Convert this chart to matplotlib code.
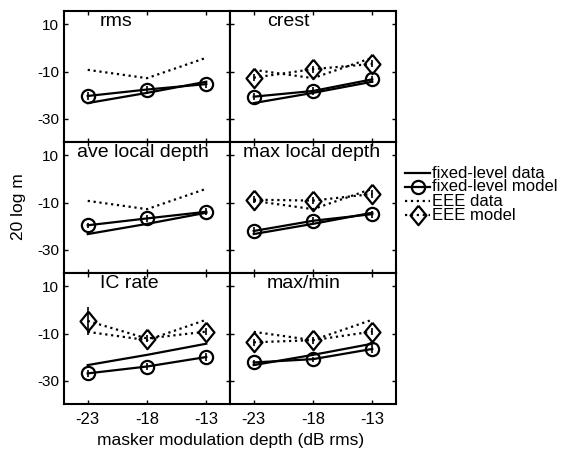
import matplotlib
matplotlib.use("Agg")
import matplotlib.pyplot as plt
from matplotlib.lines import Line2D

plt.rcParams['font.family'] = ['Liberation Sans', 'DejaVu Sans']
plt.rcParams['axes.unicode_minus'] = False

# masker modulation depths (dB rms)
depths = [-23, -18, -13]

# measured thresholds (20 log m), same in every panel
fixed_data = [-23.3, -19.0, -14.3]
eee_data = [-9.3, -12.8, -4.2]

# model predictions per decision statistic
titles = ["rms", "crest", "ave local depth", "max local depth", "IC rate", "max/min"]
fixed_model = {
    "rms": [-20.3, -17.6, -15.3],
    "crest": [-20.6, -18.2, -13.3],
    "ave local depth": [-19.6, -16.7, -13.9],
    "max local depth": [-22.0, -17.7, -14.9],
    "IC rate": [-26.8, -23.9, -19.9],
    "max/min": [-22.2, -20.8, -16.5],
}
fixed_err = {
    "rms": [1.5, 1.5, 1.5],
    "crest": [1.5, 1.5, 1.5],
    "ave local depth": [1.0, 1.5, 1.5],
    "max local depth": [1.5, 1.5, 1.5],
    "IC rate": [1.5, 1.5, 1.5],
    "max/min": [1.0, 1.0, 1.5],
}
eee_model = {
    "crest": [-12.6, -9.0, -6.8],
    "max local depth": [-8.8, -9.2, -6.4],
    "IC rate": [-4.7, -12.1, -9.2],
    "max/min": [-13.7, -12.8, -9.2],
}
eee_err = {
    "crest": [1.5, 1.5, 1.5],
    "max local depth": [1.5, 1.5, 1.5],
    "IC rate": [6.0, 1.5, 1.5],
    "max/min": [1.5, 1.5, 1.5],
}

# slightly squat diamond
diamond = [(0, 1), (0.82, 0), (0, -1), (-0.82, 0), (0, 1)]

W, H = 579, 451
fig = plt.figure(figsize=(W / 100, H / 100), dpi=100)

col_left = [64, 230]
col_w = 166
row_top = [11, 142, 273]
row_h = 131
title_dx = {"rms": 36, "crest": 37, "ave local depth": 13, "max local depth": 13,
            "IC rate": 36, "max/min": 37}

for i, name in enumerate(titles):
    r, c = divmod(i, 2)
    x0 = col_left[c]
    y0 = row_top[r]
    ax = fig.add_axes([x0 / W, 1 - (y0 + row_h) / H, col_w / W, row_h / H])

    ax.plot(depths, fixed_data, '-', color='black', lw=1.6)
    ax.plot(depths, eee_data, ':', color='black', lw=1.6)
    ax.errorbar(depths, fixed_model[name], yerr=fixed_err[name], fmt='-o',
                color='black', lw=1.6, ms=9.5, mfc='none', mew=1.6,
                elinewidth=1.2, capsize=0)
    if name in eee_model:
        ax.errorbar(depths, eee_model[name], yerr=eee_err[name], fmt=':',
                    marker=diamond, color='black', lw=1.6, ms=14, mfc='none',
                    mew=1.6, elinewidth=1.2, capsize=0)

    ax.set_xlim(-25, -11)
    ax.set_ylim(-39.7, 15.5)
    ax.set_xticks(depths)
    ax.set_yticks([10, -10, -30])
    ax.tick_params(direction='in', top=True, right=True, length=3, width=1)
    ax.tick_params(axis='y', labelsize=11)
    ax.tick_params(axis='x', labelsize=12, pad=6)
    if c == 1:
        ax.tick_params(labelleft=False)
    if r < 2:
        ax.tick_params(labelbottom=False)
    for s in ax.spines.values():
        s.set_linewidth(1.5)
    ax.text(title_dx[name] / col_w, 0.985, name, transform=ax.transAxes,
            ha='left', va='top', fontsize=14)

fig.text(231 / W, 1 - 441 / H, "masker modulation depth (dB rms)",
         ha='center', va='center', fontsize=12.5)
fig.text(19 / W, 1 - 207 / H, "20 log m", rotation=90,
         ha='center', va='center', fontsize=12.5)

# legend drawn by hand so the rows sit close together
labels = ["fixed-level data", "fixed-level model", "EEE data", "EEE model"]
styles = [('-', None, None), ('-', 'o', 9.5), (':', None, None), (':', diamond, 14)]
rows_y = [173, 187, 201, 215]
for lab, (ls, mk, ms), yy in zip(labels, styles, rows_y):
    yf = 1 - yy / H
    line = Line2D([405 / W, 430 / W], [yf, yf], transform=fig.transFigure,
                  ls=ls, color='black', lw=1.6)
    fig.add_artist(line)
    if mk is not None:
        dot = Line2D([417.5 / W], [yf], transform=fig.transFigure, ls='none',
                     marker=mk, ms=ms, mfc='none', mec='black', mew=1.6)
        fig.add_artist(dot)
    fig.text(432 / W, yf, lab, ha='left', va='center', fontsize=12)

fig.savefig("out.png", dpi=100)
